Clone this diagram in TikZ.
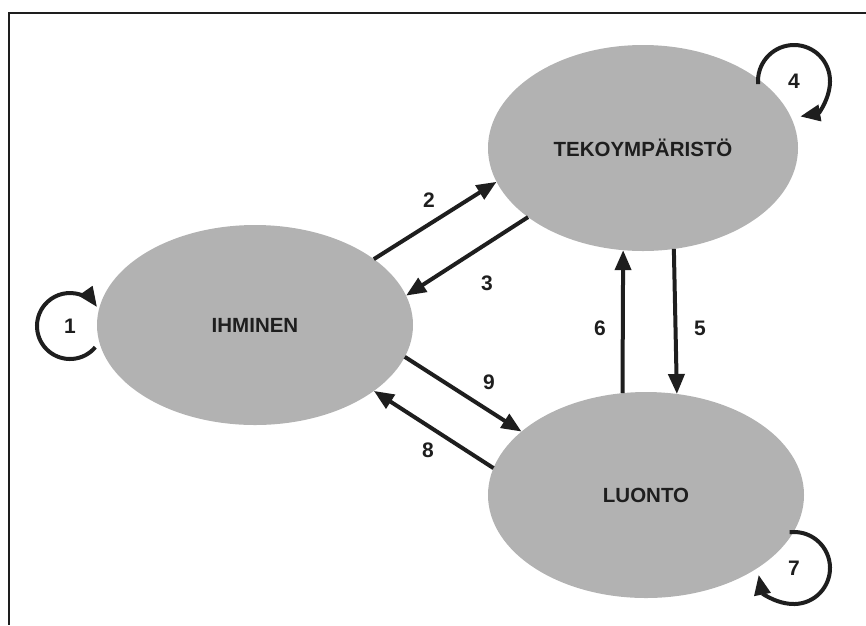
\documentclass[tikz,border=0pt]{standalone}
\usepackage{fontspec}
\setmainfont{Liberation Sans}
\usetikzlibrary{arrows.meta}
\usetikzlibrary{shapes.geometric}
\definecolor{shade}{RGB}{178,178,178}
\definecolor{ink}{RGB}{30,30,30}

\begin{document}
\begin{tikzpicture}[x=1pt,y=1pt,
  blob/.style={ellipse, fill=shade, inner sep=0pt, outer sep=0pt, text=ink, font=\bfseries\fontsize{20.5}{24}\selectfont},
  arr/.style={draw=ink, line width=4pt, -{Triangle[length=20pt,width=16pt]}},
  num/.style={text=ink, font=\bfseries\fontsize{21}{24}\selectfont},
  ring/.style={circle, inner sep=0pt, outer sep=0pt, minimum size=#1}]
  \useasboundingbox (0,0) rectangle (866,-625);
  \draw[draw=ink, line width=2pt] (866,-13) -- (9,-13) -- (9,-625);

  % the three areas
  \node[blob, minimum width=316pt, minimum height=200pt] (ihm) at (255,-325) {IHMINEN};
  \node[blob, minimum width=310pt, minimum height=206pt] (teko) at (643,-148) {TEKOYMPÄRISTÖ};
  \node[blob, minimum width=316pt, minimum height=206pt] (luonto) at (646,-495) {LUONTO};

  % links between them
  \draw[arr] (ihm.29) -- (teko.193.5);
  \draw[arr] (teko.211) -- (ihm.11);
  \draw[arr] (ihm.-12) -- (luonto.153);
  \draw[arr] (luonto.170) -- (ihm.-29);
  \draw[arr] (luonto.103) -- (teko.259);
  \draw[arr] (teko.287) -- (luonto.73.6);

  \node[num] (n2) at (429,-200) {2};
  \node[num] (n3) at (487,-283) {3};
  \node[num] (n5) at (700,-328) {5};
  \node[num] (n6) at (600,-328) {6};
  \node[num] (n8) at (428,-450) {8};
  \node[num] (n9) at (489,-382) {9};

  % loops
  \node[num, ring=66pt] (n1) at (70,-326) {1};
  \draw[arr] (n1.-40) arc[start angle=-40, end angle=-325, radius=33pt];
  \node[num, ring=72pt] (n4) at (794,-81) {4};
  \draw[arr] (n4.185) arc[start angle=185, end angle=-80, radius=36pt];
  \node[num, ring=72pt] (n7) at (794,-568) {7};
  \draw[arr] (n7.97) arc[start angle=97, end angle=-169, radius=36pt];
\end{tikzpicture}
\end{document}
